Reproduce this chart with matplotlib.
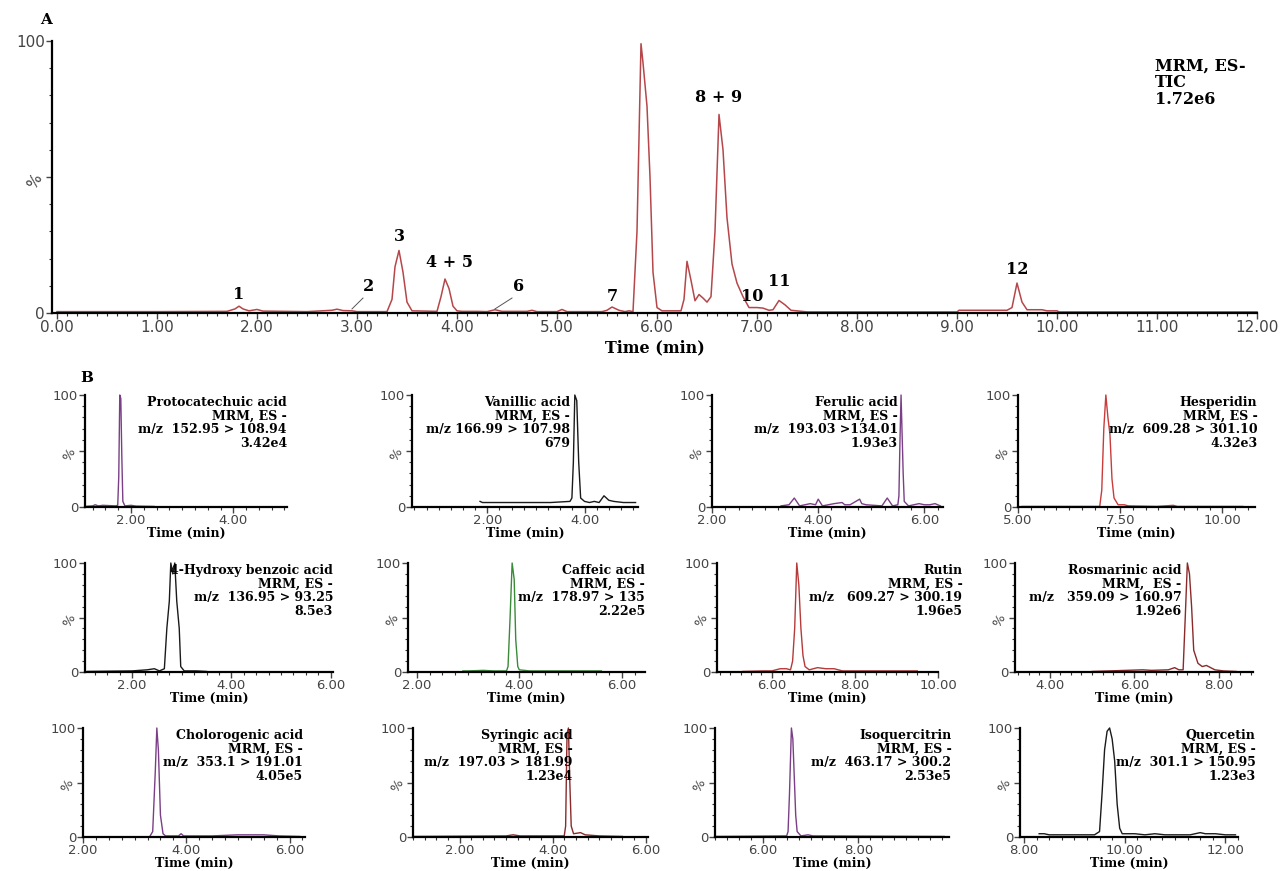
import matplotlib
matplotlib.use("Agg")
import matplotlib.pyplot as plt
from matplotlib.ticker import MultipleLocator

W, H = 1286, 871

# ---- panel A: total ion chromatogram (time in min, relative intensity %)
tic_time = [0.00, 1.00, 1.70, 1.78, 1.82, 1.86, 1.92, 2.00, 2.06, 2.50, 2.75, 2.80, 2.86, 2.95, 3.00,
            3.30, 3.35, 3.38, 3.42, 3.46, 3.50, 3.55, 3.80, 3.84, 3.88, 3.92, 3.96, 4.00, 4.05, 4.20,
            4.30, 4.38, 4.45, 4.70, 4.75, 4.80, 5.00, 5.05, 5.10, 5.45, 5.50, 5.55, 5.62, 5.68, 5.72,
            5.76, 5.80, 5.84, 5.86, 5.90, 5.93, 5.96, 6.00, 6.05, 6.24, 6.27, 6.30, 6.34, 6.38, 6.42,
            6.46, 6.50, 6.54, 6.58, 6.62, 6.66, 6.70, 6.75, 6.80, 6.86, 6.92, 7.00, 7.06, 7.12, 7.16,
            7.22, 7.28, 7.34, 7.45, 7.50, 9.00, 9.02, 9.50, 9.55, 9.60, 9.65, 9.70, 9.85, 9.90, 10.00,
            10.02, 12.00]
tic_int = [0.5, 0.5, 0.6, 1.5, 2.5, 1.5, 0.8, 1.3, 0.7, 0.5, 1.0, 1.4, 0.9, 0.8, 0.5,
           0.5, 5.0, 17.0, 23.0, 15.0, 4.0, 0.8, 0.6, 6.0, 12.5, 9.0, 2.5, 0.8, 0.6, 0.6,
           0.5, 1.2, 0.6, 0.6, 1.0, 0.5, 0.5, 1.3, 0.5, 0.5, 1.0, 2.2, 1.0, 0.5, 0.8,
           0.5, 30.0, 99.0, 92.0, 76.0, 50.0, 15.0, 2.0, 0.8, 0.8, 5.0, 19.0, 12.0, 4.5, 6.8,
           5.5, 4.0, 6.0, 30.0, 73.0, 60.0, 35.0, 18.0, 11.0, 6.0, 2.0, 2.0, 1.8, 1.0, 1.2,
           4.6, 3.0, 1.0, 0.6, 0.4, 0.4, 1.0, 1.0, 2.0, 11.0, 4.0, 1.2, 1.2, 0.8, 0.8,
           0.4, 0.4]

peak_ids = ["1", "2", "3", "4 + 5", "6", "7", "8 + 9", "10", "11", "12"]
peak_x = [1.82, 3.12, 3.42, 3.92, 4.62, 5.55, 6.62, 6.95, 7.22, 9.60]
peak_y = [3.5, 6.5, 25.0, 15.5, 6.5, 3.0, 76.0, 3.0, 8.5, 13.0]

# ---- panel B: extracted MRM traces
names = ["Protocatechuic acid", "Vanillic acid", "Ferulic acid", "Hesperidin",
         "4-Hydroxy benzoic acid", "Caffeic acid", "Rutin", "Rosmarinic acid",
         "Cholorogenic acid", "Syringic acid", "Isoquercitrin", "Quercetin"]
transitions = ["m/z  152.95 > 108.94", "m/z 166.99 > 107.98", "m/z  193.03 >134.01", "m/z  609.28 > 301.10",
               "m/z  136.95 > 93.25", "m/z  178.97 > 135", "m/z   609.27 > 300.19", "m/z   359.09 > 160.97",
               "m/z  353.1 > 191.01", "m/z  197.03 > 181.99", "m/z  463.17 > 300.2", "m/z  301.1 > 150.95"]
ion_mode = ["MRM, ES -", "MRM, ES -", "MRM, ES -", "MRM, ES -",
            "MRM, ES -", "MRM, ES -", "MRM, ES -", "MRM,  ES -",
            "MRM, ES -", "MRM, ES -", "MRM, ES -", "MRM, ES -"]
counts = ["3.42e4", "679", "1.93e3", "4.32e3", "8.5e3", "2.22e5",
          "1.96e5", "1.92e6", "4.05e5", "1.23e4", "2.53e5", "1.23e3"]

x_ranges = [(1.10, 5.05), (0.45, 5.10), (2.00, 6.35), (5.00, 10.80),
            (1.05, 6.05), (1.83, 6.45), (4.68, 9.95), (3.18, 8.80),
            (2.00, 6.30), (1.00, 6.05), (5.00, 9.90), (7.92, 12.25)]
x_ticks = [[2, 4], [2, 4], [2, 4, 6], [5, 7.5, 10],
           [2, 4, 6], [2, 4, 6], [6, 8, 10], [4, 6, 8],
           [2, 4, 6], [2, 4, 6], [6, 8], [8, 10, 12]]

traces_t = [
    [1.10, 1.25, 1.30, 1.36, 1.45, 1.70, 1.74, 1.76, 1.78, 1.80, 1.82, 1.84, 1.88, 2.00, 2.10, 2.45],
    [1.85, 1.90, 2.60, 3.30, 3.50, 3.70, 3.74, 3.77, 3.80, 3.84, 3.88, 3.92, 4.00, 4.10, 4.20, 4.30,
     4.40, 4.50, 4.60, 4.80, 5.05],
    [3.30, 3.45, 3.55, 3.65, 3.85, 3.95, 4.00, 4.08, 4.30, 4.45, 4.50, 4.60, 4.78, 4.82, 4.90, 5.20,
     5.30, 5.40, 5.50, 5.52, 5.54, 5.56, 5.58, 5.60, 5.62, 5.70, 5.90, 6.00, 6.10, 6.20, 6.30],
    [5.10, 7.00, 7.05, 7.10, 7.15, 7.20, 7.25, 7.30, 7.35, 7.45, 7.60, 7.70, 8.40, 8.80, 8.90, 10.50],
    [1.10, 2.00, 2.30, 2.45, 2.55, 2.65, 2.70, 2.75, 2.78, 2.82, 2.86, 2.90, 2.95, 2.98, 3.05, 3.30,
     3.50],
    [2.90, 3.00, 3.30, 3.50, 3.75, 3.78, 3.82, 3.86, 3.90, 3.93, 3.97, 4.00, 4.20, 5.60],
    [5.30, 5.80, 6.00, 6.20, 6.35, 6.45, 6.50, 6.55, 6.60, 6.65, 6.70, 6.75, 6.80, 6.90, 7.10, 7.30,
     7.50, 7.70, 8.00, 9.50],
    [5.00, 6.20, 6.40, 6.80, 6.95, 7.05, 7.15, 7.20, 7.25, 7.30, 7.35, 7.40, 7.50, 7.60, 7.70, 7.80,
     7.90, 8.10, 8.40],
    [3.30, 3.35, 3.40, 3.43, 3.46, 3.50, 3.55, 3.60, 3.85, 3.90, 3.95, 4.50, 5.00, 5.50, 5.80, 6.20],
    [1.00, 3.00, 3.15, 3.30, 4.25, 4.28, 4.31, 4.34, 4.37, 4.40, 4.45, 4.60, 4.70, 5.00, 5.50],
    [5.00, 6.50, 6.53, 6.56, 6.60, 6.63, 6.66, 6.69, 6.72, 6.80, 6.95, 7.05, 9.80],
    [8.30, 8.40, 8.50, 9.00, 9.40, 9.50, 9.55, 9.60, 9.65, 9.70, 9.75, 9.80, 9.85, 9.90, 9.95, 10.20,
     10.40, 10.60, 10.80, 11.30, 11.50, 11.60, 11.80, 12.00, 12.20],
]
traces_i = [
    [0.5, 1.0, 2.0, 1.0, 1.5, 1.0, 1.5, 27.0, 100.0, 97.0, 45.0, 5.0, 1.0, 1.5, 0.8, 0.5],
    [5.0, 4.0, 4.0, 4.0, 4.5, 5.0, 8.0, 40.0, 100.0, 95.0, 40.0, 8.0, 5.0, 4.0, 5.0, 4.0,
     10.0, 6.0, 5.0, 4.0, 4.0],
    [1.0, 2.0, 8.0, 1.0, 3.0, 2.0, 7.0, 1.0, 3.0, 4.0, 2.0, 2.0, 7.0, 3.0, 2.0, 1.0,
     8.0, 1.0, 2.0, 10.0, 60.0, 100.0, 65.0, 30.0, 5.0, 1.0, 3.0, 2.0, 2.0, 3.0, 1.0],
    [0.5, 0.5, 15.0, 70.0, 100.0, 80.0, 65.0, 25.0, 8.0, 2.0, 2.0, 1.0, 0.5, 1.5, 0.5, 0.5],
    [0.5, 1.0, 2.0, 3.0, 1.0, 3.0, 40.0, 65.0, 100.0, 90.0, 100.0, 65.0, 40.0, 5.0, 1.0, 1.0,
     0.5],
    [1.0, 1.0, 1.5, 1.0, 1.0, 5.0, 50.0, 100.0, 85.0, 30.0, 5.0, 2.0, 1.0, 1.0],
    [0.5, 1.0, 1.0, 3.0, 3.0, 2.0, 10.0, 40.0, 100.0, 80.0, 40.0, 15.0, 5.0, 2.0, 4.0, 3.0,
     3.0, 1.0, 1.0, 1.0],
    [0.5, 2.0, 1.5, 2.0, 4.0, 2.0, 2.0, 50.0, 100.0, 90.0, 60.0, 20.0, 8.0, 5.0, 6.0, 4.0,
     2.0, 1.0, 0.5],
    [1.0, 5.0, 60.0, 100.0, 80.0, 20.0, 3.0, 1.0, 1.0, 3.0, 1.0, 1.0, 2.0, 2.0, 1.0, 0.5],
    [0.5, 1.0, 2.0, 1.0, 1.0, 10.0, 95.0, 100.0, 50.0, 10.0, 3.0, 4.0, 2.0, 1.0, 0.5],
    [0.5, 1.0, 5.0, 40.0, 100.0, 90.0, 55.0, 20.0, 5.0, 1.0, 2.0, 1.0, 0.5],
    [3.0, 3.0, 2.0, 2.0, 2.0, 5.0, 40.0, 80.0, 97.0, 100.0, 90.0, 70.0, 30.0, 8.0, 3.0, 3.0,
     2.0, 3.0, 2.0, 2.0, 4.0, 3.0, 3.0, 2.0, 2.0],
]
trace_colors = ["#7a3f86", "#1a1a1a", "#7a3f86", "#c83c3c",
                "#1a1a1a", "#3a8a3a", "#b53a3a", "#8a2a2a",
                "#7a3f86", "#8a2a2a", "#7a3f86", "#1a1a1a"]
# right edge of the label block, as fraction of the axes width
label_xfrac = [1.0, 0.70, 0.805, 1.01, 1.0, 1.0, 1.11, 0.70, 0.99, 0.68, 1.01, 1.08]

# panel pixel boxes (left, right) per column and (top, bottom) per row
col_px = [[(85, 287), (412, 638), (712, 943), (1018, 1255)],
          [(85, 333), (408, 645), (717, 938), (1015, 1253)],
          [(83, 305), (413, 648), (715, 949), (1020, 1238)]]
row_px = [(395, 507), (563, 672), (728, 837)]

serif = "DejaVu Serif"
sans = "DejaVu Sans"


def add_axes_px(fig, left, right, top, bottom):
    return fig.add_axes([left / W, 1 - bottom / H, (right - left) / W, (bottom - top) / H])


def style_axes(ax, tick_fs):
    for s in ["top", "right"]:
        ax.spines[s].set_visible(False)
    ax.spines["left"].set_linewidth(1.6)
    ax.spines["bottom"].set_linewidth(1.6)
    ax.set_ylim(0, 100)
    ax.set_yticks([0, 50, 100])
    ax.set_yticklabels(["0", "%", "100"])
    ax.get_yticklabels()[1].set_rotation(60)
    ax.get_yticklabels()[1].set_fontsize(tick_fs - 3)
    ax.yaxis.set_minor_locator(MultipleLocator(10))
    ax.tick_params(axis="both", which="major", length=4, width=1.0, labelsize=tick_fs,
                   colors="#444444", pad=1)
    ax.tick_params(axis="both", which="minor", length=2.5, width=0.8, colors="#333333")
    for lab in ax.get_xticklabels() + ax.get_yticklabels():
        lab.set_fontfamily(sans)


fig = plt.figure(figsize=(W / 100, H / 100), dpi=100)
fig.patch.set_facecolor("white")

# ---- A
axA = add_axes_px(fig, 52, 1257, 41, 313)
axA.plot(tic_time, tic_int, color="#b5474a", lw=1.1, clip_on=False)
axA.set_xlim(-0.05, 12.0)
axA.set_xticks(range(0, 13))
axA.set_xticklabels([f"{v:.2f}" for v in range(0, 13)])
axA.xaxis.set_minor_locator(MultipleLocator(0.1))
style_axes(axA, 11)
axA.set_xlabel("Time (min)", fontfamily=serif, fontweight="bold", fontsize=11.5, labelpad=3)
for lab, px, py in zip(peak_ids, peak_x, peak_y):
    axA.text(px, py, lab, ha="center", va="bottom", fontfamily=serif, fontweight="bold", fontsize=11.5)
# leader lines for the small peaks 2 and 6
axA.plot([2.95, 3.06], [1.5, 5.5], color="#555555", lw=0.7)
axA.plot([4.38, 4.55], [1.5, 5.5], color="#555555", lw=0.7)
axA.text(0.915, 0.94, "MRM, ES-\nTIC\n1.72e6", transform=axA.transAxes, ha="left", va="top",
         fontfamily=serif, fontweight="bold", fontsize=11.5, linespacing=1.0)
fig.text(40 / W, 1 - 20 / H, "A", fontfamily=serif, fontweight="bold", fontsize=11, va="center")

# ---- B
fig.text(80 / W, 1 - 378 / H, "B", fontfamily=serif, fontweight="bold", fontsize=11, va="center")
for i in range(12):
    r, c = divmod(i, 4)
    left, right = col_px[r][c]
    top, bottom = row_px[r]
    ax = add_axes_px(fig, left, right, top, bottom)
    ax.plot(traces_t[i], traces_i[i], color=trace_colors[i], lw=1.0, clip_on=False)
    ax.set_xlim(*x_ranges[i])
    ax.set_xticks(x_ticks[i])
    ax.set_xticklabels([f"{v:.2f}" for v in x_ticks[i]])
    step = x_ticks[i][1] - x_ticks[i][0]
    ax.xaxis.set_minor_locator(MultipleLocator(step / 8))
    style_axes(ax, 9.5)
    ax.set_xlabel("Time (min)", fontfamily=serif, fontweight="bold", fontsize=9, labelpad=0)
    ax.text(label_xfrac[i], 0.99, f"{names[i]}\n{ion_mode[i]}\n{transitions[i]}\n{counts[i]}",
            transform=ax.transAxes, ha="right", va="top", fontfamily=serif, fontweight="bold",
            fontsize=9, linespacing=1.05, multialignment="right")

fig.savefig("out.png", dpi=100, facecolor="white")
